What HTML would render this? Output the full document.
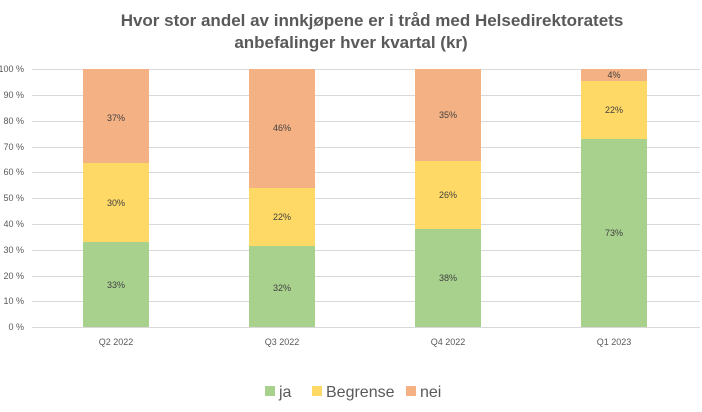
<!DOCTYPE html>
<html><head><style>body{margin:0;background:#fff}svg{display:block}text{font-family:"Liberation Sans",sans-serif}</style></head><body>
<svg width="702" height="412" viewBox="0 0 702 412">
<text x="372" y="26" text-anchor="middle" font-size="17" font-weight="bold" fill="#595959">Hvor stor andel av innkjøpene er i tråd med Helsedirektoratets</text>
<text x="351" y="48" text-anchor="middle" font-size="17" font-weight="bold" fill="#595959">anbefalinger hver kvartal (kr)</text>
<g stroke="#d9d9d9" stroke-width="1">
<line x1="32" x2="700" y1="69.5" y2="69.5"/><line x1="32" x2="700" y1="95.5" y2="95.5"/><line x1="32" x2="700" y1="121.5" y2="121.5"/><line x1="32" x2="700" y1="147.5" y2="147.5"/><line x1="32" x2="700" y1="172.5" y2="172.5"/><line x1="32" x2="700" y1="198.5" y2="198.5"/><line x1="32" x2="700" y1="224.5" y2="224.5"/><line x1="32" x2="700" y1="250.5" y2="250.5"/><line x1="32" x2="700" y1="276.5" y2="276.5"/><line x1="32" x2="700" y1="301.5" y2="301.5"/><line x1="32" x2="700" y1="327.5" y2="327.5"/>
</g>
<g font-size="9" fill="#595959" text-anchor="end">
<text x="24" y="72">100 %</text><text x="24" y="98">90 %</text><text x="24" y="124">80 %</text><text x="24" y="150">70 %</text><text x="24" y="175">60 %</text><text x="24" y="201">50 %</text><text x="24" y="227">40 %</text><text x="24" y="253">30 %</text><text x="24" y="279">20 %</text><text x="24" y="304">10 %</text><text x="24" y="330">0 %</text>
</g>
<g>
<rect x="83" y="242" width="66" height="85" fill="#a9d18e"/><rect x="83" y="163" width="66" height="79" fill="#ffd966"/><rect x="83" y="69" width="66" height="94" fill="#f4b183"/>
<rect x="249" y="246" width="66" height="81" fill="#a9d18e"/><rect x="249" y="188" width="66" height="58" fill="#ffd966"/><rect x="249" y="69" width="66" height="119" fill="#f4b183"/>
<rect x="415" y="229" width="66" height="98" fill="#a9d18e"/><rect x="415" y="161" width="66" height="68" fill="#ffd966"/><rect x="415" y="69" width="66" height="92" fill="#f4b183"/>
<rect x="581" y="139" width="66" height="188" fill="#a9d18e"/><rect x="581" y="81" width="66" height="58" fill="#ffd966"/><rect x="581" y="69" width="66" height="12" fill="#f4b183"/>
</g>
<g font-size="9" fill="#404040" text-anchor="middle">
<text x="116" y="288">33%</text><text x="116" y="206">30%</text><text x="116" y="121">37%</text>
<text x="282" y="291">32%</text><text x="282" y="220">22%</text><text x="282" y="131">46%</text>
<text x="448" y="281">38%</text><text x="448" y="198">26%</text><text x="448" y="118">35%</text>
<text x="614" y="236">73%</text><text x="614" y="113">22%</text><text x="614" y="78">4%</text>
</g>
<g font-size="9" fill="#595959" text-anchor="middle">
<text x="116" y="345">Q2 2022</text><text x="282" y="345">Q3 2022</text><text x="448" y="345">Q4 2022</text><text x="614" y="345">Q1 2023</text>
</g>
<g font-size="16" fill="#595959">
<rect x="265" y="386" width="10" height="10" fill="#a9d18e"/><text x="279" y="397">ja</text>
<rect x="312" y="386" width="10" height="10" fill="#ffd966"/><text x="326" y="397">Begrense</text>
<rect x="406" y="386" width="10" height="10" fill="#f4b183"/><text x="420" y="397">nei</text>
</g>
</svg>
</body></html>
